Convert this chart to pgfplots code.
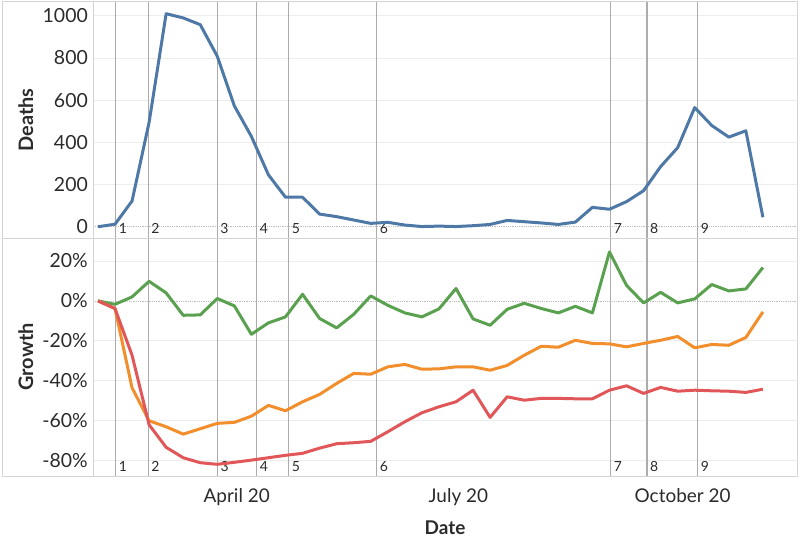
\documentclass[border=0pt]{standalone}
\usepackage{fontspec}
\setmainfont{Lato}
\usepackage{pgfplots}
\pgfplotsset{compat=1.18}

\definecolor{tblue}{HTML}{4E79A7}
\definecolor{torange}{HTML}{F28E2B}
\definecolor{tred}{HTML}{E15759}
\definecolor{tgreen}{HTML}{59A14F}
\definecolor{gridc}{HTML}{EDEDED}
\definecolor{framec}{HTML}{D4D4D4}
\definecolor{refc}{HTML}{ACACAC}
\definecolor{zeroc}{HTML}{BDBDBD}
\definecolor{textc}{HTML}{2B2B2B}

% event lines, drawn in both panes; #1 = ymin, #2 = ymax
\newcommand\reflines[2]{%
  \draw[refc, line width=1.4bp] (axis cs:1.04,#1)  -- (axis cs:1.04,#2)  node[lab] at (axis cs:1.04,#1)  {1};
  \draw[refc, line width=1.4bp] (axis cs:2.95,#1)  -- (axis cs:2.95,#2)  node[lab] at (axis cs:2.95,#1)  {2};
  \draw[refc, line width=1.4bp] (axis cs:7,#1)     -- (axis cs:7,#2)     node[lab] at (axis cs:7,#1)     {3};
  \draw[refc, line width=1.4bp] (axis cs:9.31,#1)  -- (axis cs:9.31,#2)  node[lab] at (axis cs:9.31,#1)  {4};
  \draw[refc, line width=1.4bp] (axis cs:11.18,#1) -- (axis cs:11.18,#2) node[lab] at (axis cs:11.18,#1) {5};
  \draw[refc, line width=1.4bp] (axis cs:16.35,#1) -- (axis cs:16.35,#2) node[lab] at (axis cs:16.35,#1) {6};
  \draw[refc, line width=1.4bp] (axis cs:30.07,#1) -- (axis cs:30.07,#2) node[lab] at (axis cs:30.07,#1) {7};
  \draw[refc, line width=1.4bp] (axis cs:32.2,#1)  -- (axis cs:32.2,#2)  node[lab] at (axis cs:32.2,#1)  {8};
  \draw[refc, line width=1.4bp] (axis cs:35.17,#1) -- (axis cs:35.17,#2) node[lab] at (axis cs:35.17,#1) {9};
}

\tikzset{
  lab/.style={anchor=base west, inner sep=0pt, xshift=2.5bp, yshift=5bp,
    font=\fontsize{14}{14}\selectfont, text=textc},
}
\pgfplotsset{
  pane/.style={
    scale only axis, width=704bp,
    xmin=-0.29, xmax=41.0,
    axis line style={draw=none},
    major tick length=0,
    ymajorgrids, grid style={color=gridc, line width=0.8bp},
    extra y tick style={grid style={densely dotted, color=zeroc, line width=0.8bp}},
    yticklabel style={font=\fontsize{19.5}{19.5}\selectfont, text=textc, anchor=east, inner sep=0pt, xshift=-5bp},
    /pgf/number format/assume math mode=true,
    /pgf/number format/1000 sep={},
    every axis plot/.append style={line width=3bp, line join=round, mark=none},
  },
}

\begin{document}
\begin{tikzpicture}[x=1bp,y=1bp]
\useasboundingbox (0,0) rectangle (800,537);

% Deaths
\begin{axis}[pane, at={(93bp,298bp)}, anchor=south west, height=237.3bp,
  ymin=-58, ymax=1067, ytick={200,400,600,800,1000}, extra y ticks={0},
  xtick=\empty]
\reflines{-58}{1067}
\addplot[tblue] coordinates {
  (0,0) (1,12) (2,122) (3,495) (4,1010) (5,990) (6,958) (7,808) (8,573) (9,428)
  (10,246) (11,140) (12,140) (13,60) (14,48) (15,32) (16,16) (17,21) (18,8) (19,1)
  (20,3) (21,1) (22,5) (23,11) (24,30) (25,24) (26,18) (27,11) (28,22) (29,92)
  (30,83) (31,119) (32,171) (33,285) (34,375) (35,565) (36,480) (37,425) (38,455) (39,45)
};
\end{axis}

% Growth
\begin{axis}[pane, at={(93bp,60.3bp)}, anchor=south west, height=237.7bp,
  ymin=-88, ymax=31, ytick={-80,-60,-40,-20,20}, extra y ticks={0},
  yticklabel={\pgfmathprintnumber{\tick}\%},
  extra y tick labels={0\%},
  xtick={8.14,21.14,34.29}, xticklabels={April 20,July 20,October 20},
  xticklabel style={font=\fontsize{19}{19}\selectfont, text=textc, anchor=base, inner sep=0pt, yshift=-26bp}]
\reflines{-88}{31}
\addplot[tgreen] coordinates {
  (0,0) (1,-1.7) (2,2) (3,9.8) (4,4) (5,-7.2) (6,-7) (7,1.2) (8,-2.5) (9,-16.7)
  (10,-11) (11,-8) (12,3.3) (13,-8.8) (14,-13.5) (15,-6.7) (16,2.5) (17,-2.2) (18,-6) (19,-8)
  (20,-4) (21,6.2) (22,-9) (23,-12.2) (24,-4.2) (25,-1.2) (26,-3.8) (27,-6) (28,-2.7) (29,-6)
  (30,24.5) (31,7.8) (32,-1) (33,4.3) (34,-1) (35,1) (36,8.2) (37,5) (38,6) (39,16.7)
};
\addplot[torange] coordinates {
  (0,0) (1,-3.8) (2,-43.5) (3,-60) (4,-63) (5,-66.7) (6,-64) (7,-61.3) (8,-60.8) (9,-57.7)
  (10,-52.3) (11,-55) (12,-50.5) (13,-46.8) (14,-41.3) (15,-36.3) (16,-36.7) (17,-33) (18,-31.8) (19,-34.2)
  (20,-34) (21,-33) (22,-33) (23,-34.7) (24,-32.3) (25,-27.2) (26,-22.7) (27,-23.2) (28,-19.7) (29,-21.3)
  (30,-21.5) (31,-23) (32,-21.3) (33,-19.7) (34,-17.8) (35,-23.5) (36,-21.8) (37,-22.2) (38,-18.3) (39,-5.5)
};
\addplot[tred] coordinates {
  (0,0) (1,-3.8) (2,-27.2) (3,-62) (4,-73.3) (5,-78.5) (6,-81) (7,-81.8) (8,-80.8) (9,-79.7)
  (10,-78.5) (11,-77.3) (12,-76.3) (13,-73.7) (14,-71.5) (15,-71) (16,-70.3) (17,-65.5) (18,-60.5) (19,-56)
  (20,-53) (21,-50.5) (22,-44.7) (23,-58.3) (24,-48) (25,-49.7) (26,-48.8) (27,-48.8) (28,-49) (29,-49)
  (30,-44.7) (31,-42.5) (32,-46.3) (33,-43.3) (34,-45.2) (35,-44.7) (36,-45) (37,-45.2) (38,-45.8) (39,-44.2)
};
\end{axis}

% pane borders
\draw[framec, line width=1bp] (2.5,535.5) rectangle (797,60.3);
\draw[framec, line width=1bp] (2.5,298) -- (797,298);
\draw[framec, line width=1bp] (93,535.5) -- (93,60.3);

% axis titles
\node[rotate=90, font=\fontsize{20}{20}\selectfont\bfseries, text=textc] at (25.7,417) {Deaths};
\node[rotate=90, font=\fontsize{20}{20}\selectfont\bfseries, text=textc] at (25.7,180) {Growth};
\node[font=\fontsize{19}{19}\selectfont\bfseries, text=textc] at (445,9.7) {Date};
\end{tikzpicture}
\end{document}
